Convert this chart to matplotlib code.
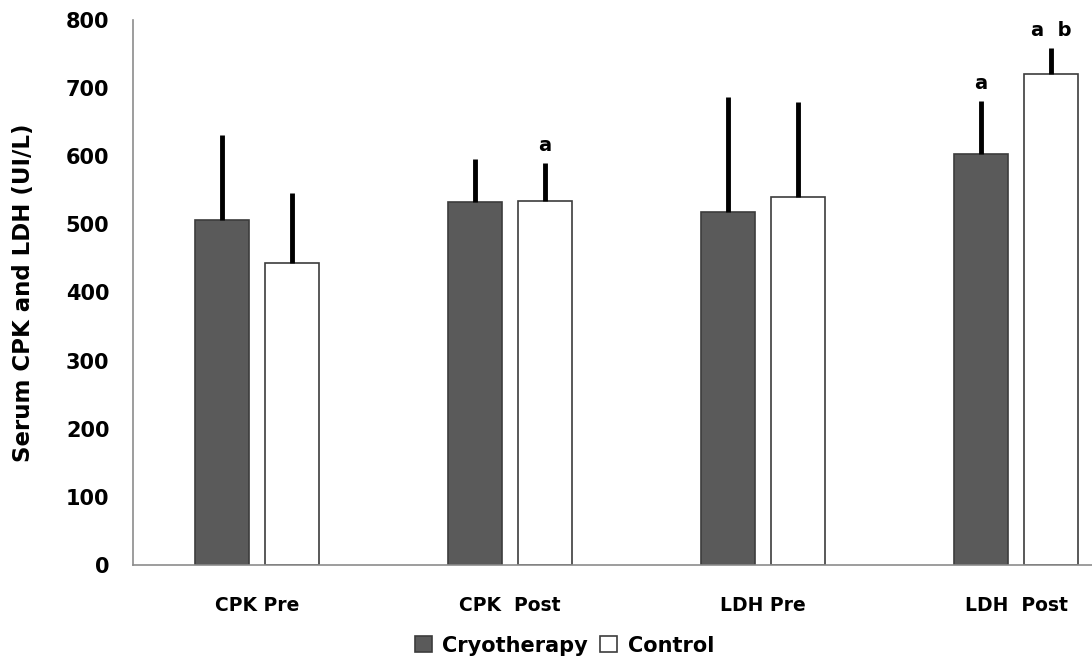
import numpy as np
import matplotlib.pyplot as plt

categories = ['CPK Pre', 'CPK  Post', 'LDH Pre', 'LDH  Post']
cryo_mean = [506, 533, 518, 603]
cryo_sd = [125, 62, 168, 78]
ctrl_mean = [443, 534, 540, 721]
ctrl_sd = [103, 56, 140, 37]
cryo_marks = ['', '', '', 'a']
ctrl_marks = ['', 'a', '', 'a  b']

fig = plt.figure(figsize=(10.92, 6.6), dpi=100)
ax = fig.add_axes([0.1218, 0.144, 0.8782, 0.826])

x = np.arange(len(categories))
w = 0.213
off = 0.138

ax.bar(x - off, cryo_mean, w, color='#5a5a5a', edgecolor='#3c3c3c', linewidth=1.2,
       label='Cryotherapy', zorder=2)
ax.bar(x + off, ctrl_mean, w, color='white', edgecolor='#3c3c3c', linewidth=1.2,
       label='Control', zorder=2)

ax.errorbar(x - off, cryo_mean, yerr=[np.zeros(4), cryo_sd], fmt='none',
            ecolor='black', elinewidth=3.5, capsize=0, zorder=3)
ax.errorbar(x + off, ctrl_mean, yerr=[np.zeros(4), ctrl_sd], fmt='none',
            ecolor='black', elinewidth=3.5, capsize=0, zorder=3)

for i in range(4):
    if cryo_marks[i]:
        ax.text(x[i] - off, cryo_mean[i] + cryo_sd[i] + 12, cryo_marks[i],
                ha='center', va='bottom', fontsize=14, fontweight='bold')
    if ctrl_marks[i]:
        ax.text(x[i] + off, ctrl_mean[i] + ctrl_sd[i] + 12, ctrl_marks[i],
                ha='center', va='bottom', fontsize=14, fontweight='bold')

ax.set_xlim(-0.49, 3.30)
ax.set_ylim(0, 800)
ax.set_yticks(range(0, 801, 100))
ax.set_xticks(x)
ax.set_xticklabels(categories, fontsize=13.5, fontweight='bold')
ax.tick_params(axis='y', length=0, pad=17, labelsize=15)
ax.tick_params(axis='x', length=0, pad=22)
for lab in ax.get_yticklabels():
    lab.set_fontweight('bold')
ax.set_ylabel('Serum CPK and LDH (UI/L)', fontsize=16.5, fontweight='bold', labelpad=22)

for s in ['top', 'right']:
    ax.spines[s].set_visible(False)
for s in ['left', 'bottom']:
    ax.spines[s].set_color('#8c8c8c')
    ax.spines[s].set_linewidth(1.2)

ax.legend(loc='upper center', bbox_to_anchor=(0.45, -0.095), ncol=2, frameon=False,
          prop={'weight': 'bold', 'size': 15}, handlelength=0.8, handleheight=0.8,
          handletextpad=0.5, columnspacing=0.6)

fig.savefig('out.png', dpi=100)
